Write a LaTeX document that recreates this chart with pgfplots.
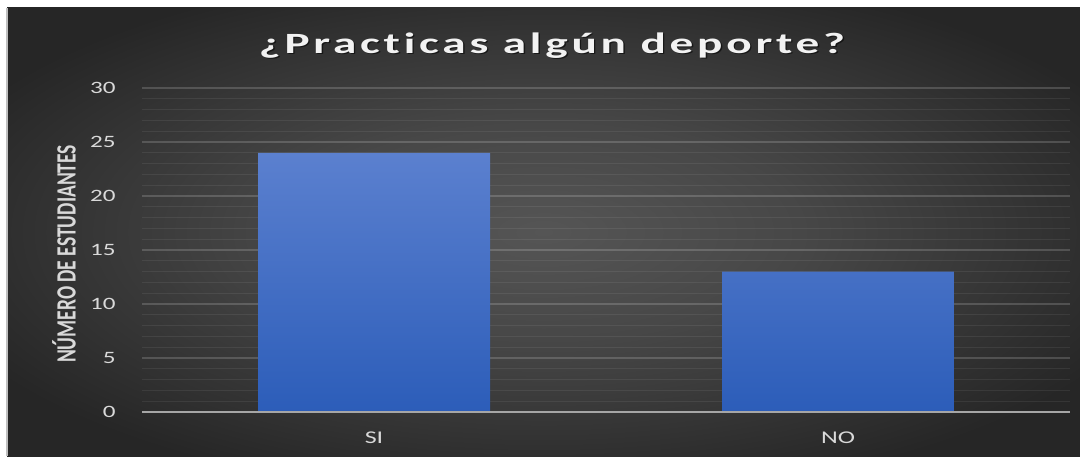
\documentclass[border=0pt]{standalone}
\usepackage{pgfplots}
\pgfplotsset{compat=1.18}
\usepackage{fontspec}
\setmainfont{Carlito}
\newfontfamily\ticfont[FakeStretch=1.45]{Carlito}
\newfontfamily\ylabfont[FakeStretch=0.70]{Carlito}
\newfontfamily\titfont[LetterSpace=8, Ligatures=NoCommon]{Carlito}
\definecolor{bgin}{HTML}{555555}
\definecolor{bgmid}{HTML}{474747}
\definecolor{bgout}{HTML}{262626}
\definecolor{bartop}{HTML}{5B80CF}
\definecolor{barbot}{HTML}{2C5DB9}
\definecolor{axgray}{HTML}{A6A6A6}
\definecolor{ticgray}{HTML}{D9D9D9}
\pgfdeclareradialshading{bgshade}{\pgfpoint{0bp}{0bp}}{color(0bp)=(bgin); color(12bp)=(bgmid); color(30bp)=(bgout); color(50bp)=(bgout)}
\newcommand{\titletext}{\resizebox{293bp}{\height}{\titfont\bfseries\fontsize{14.75}{18}\selectfont ¿Practicas algún deporte?}}
\begin{document}
\begin{tikzpicture}[x=1bp,y=1bp]
\useasboundingbox (0,0) rectangle (540,228);
\fill[white] (0,0) rectangle (540,228);
\shade[shading=bgshade] (3.5,0) rectangle (540,224);
\draw[white!75!black, line width=0.6bp] (3.5,0) -- (3.5,224);
\node[anchor=base, text=black, opacity=0.55, inner sep=0pt] at (276.7,201.0) {\titletext};
\node[anchor=base, text=white!95!black, inner sep=0pt] at (276,201.5) {\titletext};
\begin{axis}[
  at={(71bp,22bp)}, anchor=south west,
  scale only axis, width=464bp, height=162bp,
  xmin=-0.5, xmax=1.5, ymin=0, ymax=30,
  ytick={0,5,...,30}, minor y tick num=4,
  xtick={0,1}, xticklabels={SI,NO},
  axis line style={draw=none},
  major tick length=0pt, minor tick length=0pt,
  tick style={draw=none},
  ymajorgrids, yminorgrids,
  major grid style={white, opacity=0.17, line width=0.6bp},
  minor grid style={white, opacity=0.07, line width=0.5bp},
  /pgf/number format/assume math mode=true,
  yticklabel style={font=\ticfont\fontsize{8.7}{9}\selectfont, text=ticgray, anchor=east, inner sep=0pt, xshift=-13bp},
  xticklabel style={font=\ticfont\fontsize{9}{9}\selectfont, text=ticgray, anchor=north, inner sep=0pt, yshift=-9.5bp},
  ylabel={\ylabfont\bfseries\fontsize{14}{14}\selectfont NÚMERO DE ESTUDIANTES},
  ylabel style={at={(axis description cs:-0.084,0.488)}, anchor=center, text=ticgray, inner sep=0pt},
  bar width=116bp,
]
\addplot[ybar, draw=none, top color=bartop, bottom color=barbot] coordinates {(0,24) (1,13)};
\addplot[axgray, line width=1bp] coordinates {(-0.5,0) (1.5,0)};
\end{axis}
\end{tikzpicture}
\end{document}
